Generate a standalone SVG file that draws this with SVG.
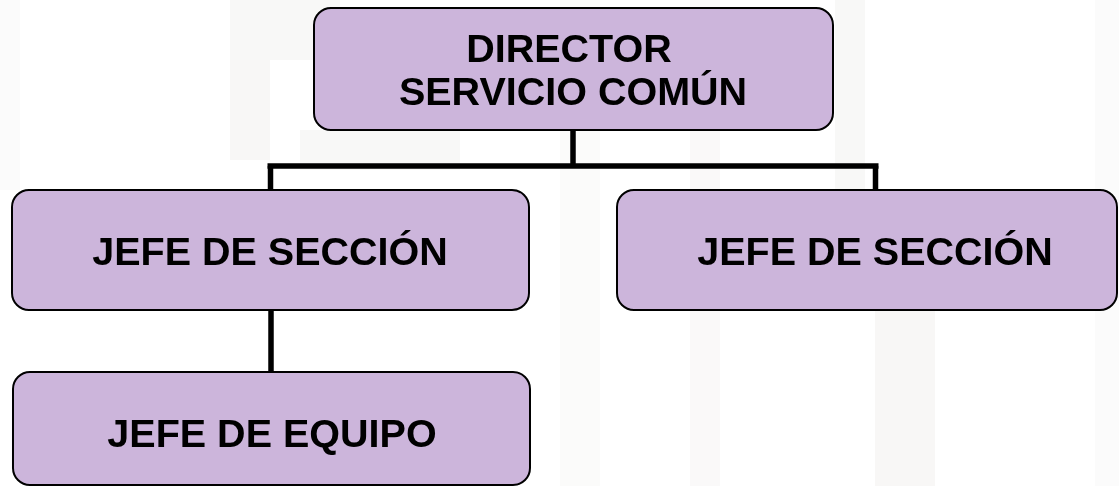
<svg xmlns="http://www.w3.org/2000/svg" width="1119" height="486" viewBox="0 0 1119 486">
  <style>
    .box { fill: #CCB5DB; stroke: #000000; stroke-width: 2; }
    .lbl { font-family: "Liberation Sans", Arial, sans-serif; font-weight: bold; font-size: 39.5px; fill: #000000; text-anchor: middle; }
    .conn { stroke: #000000; stroke-width: 5.5; fill: none; stroke-linecap: butt; }
    .wm { fill: #E6E4E0; }
  </style>
  <rect width="1119" height="486" fill="#FFFFFF"/>
  <g id="watermark" opacity="0.5">
    <rect class="wm" x="230" y="0" width="110" height="60" opacity="0.5"/>
    <rect class="wm" x="230" y="60" width="40" height="100" opacity="0.6"/>
    <rect class="wm" x="300" y="130" width="160" height="40" opacity="0.5"/>
    <rect class="wm" x="560" y="0" width="40" height="486" opacity="0.35"/>
    <rect class="wm" x="690" y="0" width="30" height="486" opacity="0.4"/>
    <rect class="wm" x="835" y="0" width="30" height="190" opacity="0.5"/>
    <rect class="wm" x="875" y="310" width="60" height="176" opacity="0.6"/>
    <rect class="wm" x="1095" y="0" width="24" height="486" opacity="0.3"/>
    <rect class="wm" x="0" y="0" width="20" height="190" opacity="0.3"/>
  </g>
  <g id="connectors">
    <line class="conn" x1="573" y1="130" x2="573" y2="166"/>
    <line class="conn" x1="267.5" y1="166" x2="878.5" y2="166"/>
    <line class="conn" x1="270.5" y1="166" x2="270.5" y2="190"/>
    <line class="conn" x1="875.5" y1="166" x2="875.5" y2="190"/>
    <line class="conn" x1="271" y1="310" x2="271" y2="372"/>
  </g>
  <g id="director">
    <rect class="box" x="314" y="8" width="519" height="122" rx="17" ry="17"/>
    <text class="lbl" x="569" y="62">DIRECTOR</text>
    <text class="lbl" x="573" y="105">SERVICIO COMÚN</text>
  </g>
  <g id="jefe-seccion-1">
    <rect class="box" x="12" y="190" width="517" height="120" rx="17" ry="17"/>
    <text class="lbl" x="270" y="265">JEFE DE SECCIÓN</text>
  </g>
  <g id="jefe-seccion-2">
    <rect class="box" x="617" y="190" width="500" height="120" rx="17" ry="17"/>
    <text class="lbl" x="875" y="265">JEFE DE SECCIÓN</text>
  </g>
  <g id="jefe-equipo">
    <rect class="box" x="13" y="372" width="517" height="113" rx="17" ry="17"/>
    <text class="lbl" x="272" y="447">JEFE DE EQUIPO</text>
  </g>
</svg>
